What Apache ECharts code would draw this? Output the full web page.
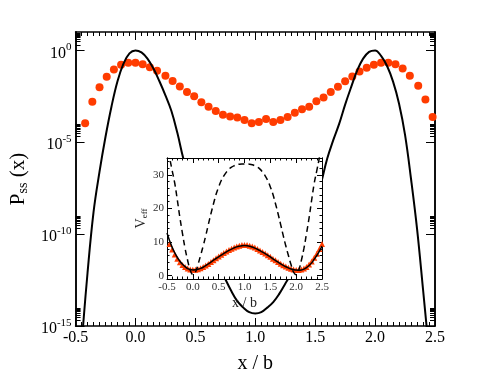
<!DOCTYPE html>
<html>
<head>
<meta charset="utf-8">
<script src="https://cdn.jsdelivr.net/npm/echarts/dist/echarts.min.js"></script>
<style>
  html, body { margin: 0; padding: 0; background: #fff; }
  #main { width: 491px; height: 379px; }
</style>
</head>
<body>
<div id="main"></div>
<script>
// 主图：P_ss(x)，纵轴用 log10 值
var mainX = [-0.45, -0.40, -0.35, -0.30, -0.25, -0.20, -0.15, -0.10, -0.05, 0.00,
  0.05, 0.10, 0.15, 0.20, 0.25, 0.30, 0.35, 0.40, 0.45, 0.50,
  0.55, 0.60, 0.65, 0.70, 0.75, 0.80, 0.85, 0.90, 0.95, 1.00,
  1.05, 1.10, 1.15, 1.20, 1.25, 1.30, 1.35, 1.40, 1.45, 1.50,
  1.55, 1.60, 1.65, 1.70, 1.75, 1.80, 1.85, 1.90, 1.95, 2.00,
  2.05, 2.10, 2.15, 2.20, 2.25, 2.30, 2.35, 2.40, 2.45]
var mainLogP = [-16.0, -12.1, -8.8, -6.6, -4.7, -3.05, -1.68, -0.72, -0.16, 0,
  -0.11, -0.45, -0.99, -1.68, -2.45, -3.3, -4.5, -5.9, -7.0, -8.1,
  -9.1, -10.1, -11.0, -11.75, -12.45, -13.1, -13.65, -14.0, -14.25, -14.32,
  -14.25, -14.0, -13.7, -13.25, -12.7, -12.15, -11.4, -10.5, -9.5, -8.4,
  -7.2, -5.9, -4.9, -4.0, -2.95, -2.0, -1.1, -0.45, -0.08, 0,
  -0.3, -0.85, -1.7, -2.9, -4.6, -7.0, -9.7, -13.0, -16.4]

// 红点
var dotX = [-0.42, -0.36, -0.30, -0.24, -0.18, -0.12, -0.06, 0.00, 0.06, 0.12,
  0.18, 0.25, 0.31, 0.37, 0.43, 0.49, 0.55, 0.61, 0.67, 0.73,
  0.79, 0.85, 0.91, 0.97, 1.03, 1.09, 1.15, 1.21, 1.27, 1.33,
  1.39, 1.45, 1.51, 1.57, 1.63, 1.69, 1.75, 1.81, 1.87, 1.93,
  1.99, 2.05, 2.11, 2.17, 2.23, 2.29, 2.36, 2.42, 2.48]
var dotLogP = [-3.97, -2.79, -2.01, -1.43, -1.04, -0.78, -0.67, -0.67, -0.76, -0.92,
  -1.11, -1.38, -1.66, -1.96, -2.26, -2.50, -2.82, -3.07, -3.30, -3.51,
  -3.60, -3.65, -3.79, -3.97, -3.90, -3.74, -3.90, -3.79, -3.63, -3.40,
  -3.21, -3.07, -2.77, -2.56, -2.26, -1.98, -1.68, -1.42, -1.15, -0.94,
  -0.78, -0.67, -0.67, -0.76, -0.99, -1.38, -1.92, -2.68, -3.63]

// 小图：V_eff
var insetX = [-0.50, -0.45, -0.40, -0.35, -0.30, -0.25, -0.20, -0.15, -0.10, -0.05, 0.00,
  0.05, 0.10, 0.15, 0.20, 0.25, 0.30, 0.35, 0.40, 0.45, 0.50,
  0.55, 0.60, 0.65, 0.70, 0.75, 0.80, 0.85, 0.90, 0.95, 1.00,
  1.05, 1.10, 1.15, 1.20, 1.25, 1.30, 1.35, 1.40, 1.45, 1.50,
  1.55, 1.60, 1.65, 1.70, 1.75, 1.80, 1.85, 1.90, 1.95, 2.00,
  2.05, 2.10, 2.15, 2.20, 2.25, 2.30, 2.35, 2.40, 2.45, 2.50]
var vDashed = [40, 35.2, 31.3, 27.5, 22.5, 17.2, 12.5, 8.1, 4.5, 1.6, 0.3,
  1.0, 3.3, 6.0, 8.8, 11.9, 15.2, 18.4, 21.4, 24.2, 26.4,
  28.3, 29.7, 30.8, 31.7, 32.3, 32.7, 33.0, 33.15, 33.2, 33.2,
  33.2, 33.15, 33.0, 32.7, 32.3, 31.7, 30.8, 29.7, 28.3, 26.4,
  24.2, 21.4, 18.4, 15.2, 11.9, 8.8, 6.0, 3.3, 1.0, 0.3,
  1.6, 4.5, 8.1, 12.5, 17.2, 22.5, 27.5, 31.3, 35.2, 40]
var vSolid = [12.7, 10.4, 8.4, 6.8, 5.4, 4.3, 3.4, 2.7, 2.1, 1.8, 1.7,
  1.75, 1.9, 2.15, 2.5, 2.95, 3.5, 4.0, 4.6, 5.1, 5.6,
  6.1, 6.6, 7.1, 7.5, 7.9, 8.25, 8.55, 8.75, 8.9, 8.95,
  8.9, 8.75, 8.5, 8.2, 7.85, 7.45, 7.0, 6.55, 6.05, 5.55,
  5.0, 4.5, 4.0, 3.5, 3.05, 2.65, 2.3, 2.0, 1.8, 1.65,
  1.6, 1.7, 1.95, 2.4, 3.0, 3.8, 4.9, 6.0, 7.3, 8.8]
var triX = insetX.slice(1)
var vTri = [9.4, 7.8, 6.3, 5.0, 4.0, 3.2, 2.6, 2.1, 1.85, 1.75,
  1.75, 1.9, 2.2, 2.55, 3.0, 3.5, 4.05, 4.6, 5.2, 5.7,
  6.2, 6.7, 7.2, 7.6, 8.0, 8.35, 8.7, 8.9, 9.1, 9.1,
  9.1, 8.9, 8.65, 8.35, 7.95, 7.5, 7.05, 6.6, 6.1, 5.6,
  5.05, 4.55, 4.05, 3.55, 3.1, 2.7, 2.35, 2.05, 1.85, 1.7,
  1.7, 1.85, 2.1, 2.6, 3.3, 4.2, 5.3, 6.5, 7.9, 9.4]

// 刻度
var logMajor = [-15, -10, -5, 0]
var insetMajor = [0, 10, 20, 30]
var insetMinor = [2, 4, 6, 8, 12, 14, 16, 18, 22, 24, 26, 28, 32, 34]

var RED = '#ff3c00'
var FONT = 'Liberation Serif'

function pairs(xs, ys) {
  return xs.map(function (x, i) { return [x, ys[i]] })
}

// 每个主刻度上方的 2..9 小刻度
var logMinor = []
logMajor.forEach(function (e) {
  for (var k = 2; k <= 9; k++) logMinor.push(e + Math.log10(k))
})

var myChart = echarts.init(document.getElementById('main'))

function xAx(grid, pos, big) {
  return {
    type: 'value', gridIndex: grid, position: pos,
    min: -0.5, max: 2.5, interval: 0.5,
    zlevel: grid,
    axisLine: { onZero: false, lineStyle: { color: '#000', width: big ? 1.5 : 1 } },
    axisTick: { inside: true, length: big ? 8 : 5, lineStyle: { color: '#000', width: 1 } },
    minorTick: { show: true, splitNumber: big ? 10 : 5, length: big ? 4 : 2.5, lineStyle: { color: '#000', width: 1 } },
    splitLine: { show: false },
    axisLabel: {
      show: pos === 'bottom',
      margin: big ? 4 : 3,
      color: big ? '#000' : '#333',
      fontFamily: FONT,
      fontSize: big ? 16 : 11,
      formatter: function (v) { return v.toFixed(1) }
    }
  }
}

function yAx(grid, pos, min, max, ticks, len, labels, big) {
  return {
    type: 'value', gridIndex: grid, position: pos,
    min: min, max: max,
    zlevel: grid,
    axisLine: { onZero: false, lineStyle: { color: '#000', width: big ? 1.5 : 1 } },
    axisTick: { inside: true, length: len, customValues: ticks, lineStyle: { color: '#000', width: 1 } },
    splitLine: { show: false },
    axisLabel: labels || { show: false }
  }
}

var xMain = xAx(0, 'bottom', true)
xMain.name = 'x / b'
xMain.nameLocation = 'middle'
xMain.nameGap = 28
xMain.nameTextStyle = { fontFamily: FONT, fontSize: 20, color: '#000' }

var xInset = xAx(1, 'bottom', false)
xInset.name = 'x / b'
xInset.nameLocation = 'middle'
xInset.nameGap = 17
xInset.nameTextStyle = { fontFamily: FONT, fontSize: 14, color: '#222' }

var yMain = yAx(0, 'left', -15, 1, logMajor, 9, {
  customValues: logMajor,
  margin: 4,
  formatter: function (v) { return '{b|10}{s|' + v + '}' },
  rich: {
    b: { fontFamily: FONT, fontSize: 16, color: '#000', padding: [6, 0, 0, 0] },
    s: { fontFamily: FONT, fontSize: 11, color: '#000', padding: [0, 0, 6, 0] }
  }
}, true)
yMain.name = '{p|P}{s|ss}{p| (x)}'
yMain.nameLocation = 'middle'
yMain.nameGap = 32
yMain.nameTextStyle = {
  rich: {
    p: { fontFamily: FONT, fontSize: 21, color: '#000' },
    s: { fontFamily: FONT, fontSize: 14, color: '#000', padding: [9, 0, 0, 0] }
  }
}

var yInset = yAx(1, 'left', -1, 35, insetMajor, 5, {
  customValues: insetMajor,
  margin: 3,
  color: '#333',
  fontFamily: FONT,
  fontSize: 11
}, false)
yInset.name = '{v|V}{s|eff}'
yInset.nameLocation = 'middle'
yInset.nameGap = 14
yInset.nameTextStyle = {
  rich: {
    v: { fontFamily: FONT, fontSize: 14, color: '#222' },
    s: { fontFamily: FONT, fontSize: 9, color: '#222', padding: [7, 0, 0, 0] }
  }
}

myChart.setOption({
  animation: false,
  backgroundColor: '#fff',
  grid: [
    { left: 54, top: 32, width: 381, height: 302, zlevel: 0 },
    { left: 167, top: 158, width: 155, height: 121, zlevel: 1, show: true, backgroundColor: '#fff', borderWidth: 0 }
  ],
  xAxis: [
    xMain,
    xAx(0, 'top', true),
    xInset,
    xAx(1, 'top', false)
  ],
  yAxis: [
    yMain,
    yAx(0, 'left', -15, 1, logMinor, 5, null, true),
    yAx(0, 'right', -15, 1, logMajor, 9, null, true),
    yAx(0, 'right', -15, 1, logMinor, 5, null, true),
    yInset,
    yAx(1, 'left', -1, 35, insetMinor, 2.5, null, false),
    yAx(1, 'right', -1, 35, insetMajor, 5, null, false),
    yAx(1, 'right', -1, 35, insetMinor, 2.5, null, false)
  ],
  series: [
    {
      type: 'line', xAxisIndex: 0, yAxisIndex: 0, zlevel: 0,
      data: pairs(mainX, mainLogP), smooth: 0.4, showSymbol: false,
      lineStyle: { color: '#000', width: 2 }
    },
    {
      type: 'scatter', xAxisIndex: 0, yAxisIndex: 0, zlevel: 0,
      data: pairs(dotX, dotLogP), symbolSize: 8,
      itemStyle: { color: RED, opacity: 1 }
    },
    {
      type: 'line', xAxisIndex: 2, yAxisIndex: 4, zlevel: 1,
      data: pairs(insetX, vDashed), smooth: 0.4, showSymbol: false,
      lineStyle: { color: '#000', width: 1.5, type: [6, 4] }
    },
    {
      type: 'scatter', xAxisIndex: 2, yAxisIndex: 4, zlevel: 1, z: 2,
      data: pairs(triX, vTri), symbol: 'triangle', symbolSize: 6,
      itemStyle: { color: RED, opacity: 1 }
    },
    {
      type: 'line', xAxisIndex: 2, yAxisIndex: 4, zlevel: 1, z: 3,
      data: pairs(insetX, vSolid), smooth: 0.4, showSymbol: false,
      lineStyle: { color: '#000', width: 1.5 }
    }
  ]
})
</script>
</body>
</html>
